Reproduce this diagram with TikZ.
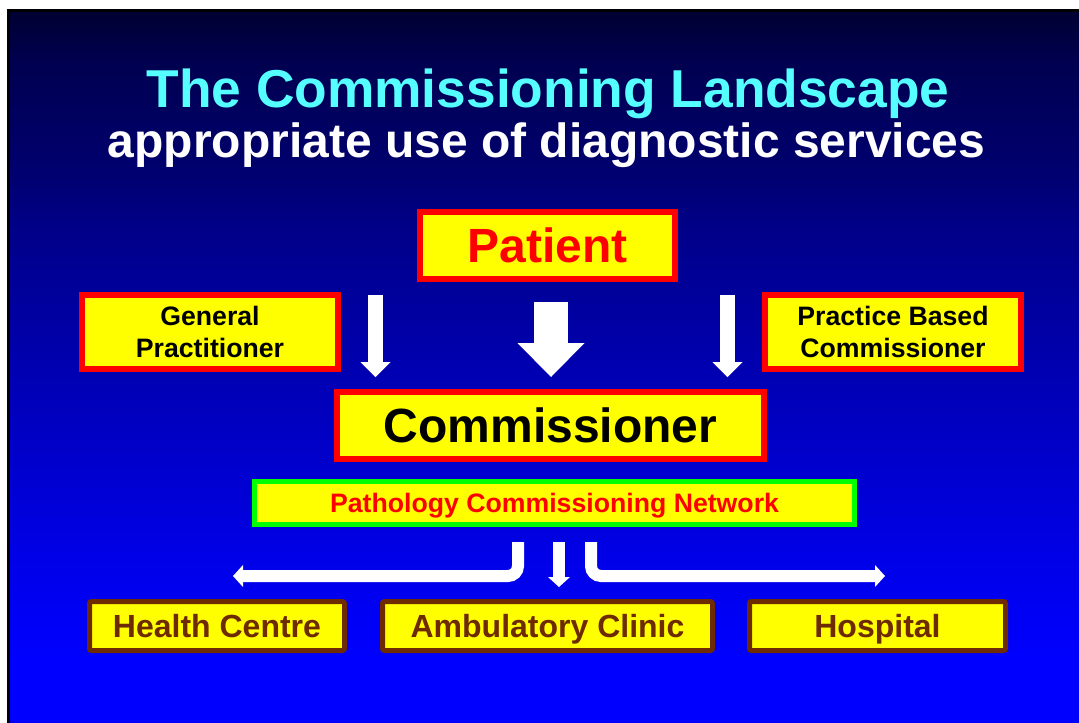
\documentclass[tikz,border=0pt]{standalone}
\usepackage{fontspec}
\setmainfont{Liberation Sans}
\usetikzlibrary{arrows.meta}
\definecolor{ttlcyan}{RGB}{85,255,255}
\definecolor{boxyellow}{RGB}{255,255,0}
\definecolor{boxred}{RGB}{255,0,0}
\definecolor{boxgreen}{RGB}{0,255,0}
\definecolor{boxbrown}{RGB}{110,42,0}
\pgfdeclareverticalshading{slidebg}{100bp}{rgb(0bp)=(0,0,1); rgb(29.35bp)=(0,0,1); rgb(36.36bp)=(0,0,0.91); rgb(43.37bp)=(0,0,0.80); rgb(51.79bp)=(0,0,0.66); rgb(59.85bp)=(0,0,0.53); rgb(63.36bp)=(0,0,0.44); rgb(71.42bp)=(0,0,0.31); rgb(75bp)=(0,0,0.19); rgb(100bp)=(0,0,0.19)}
\tikzset{
  redbox/.style={draw=boxred, fill=boxyellow, line width=4.5pt, inner sep=0pt},
  greenbox/.style={draw=boxgreen, fill=boxyellow, line width=3.75pt, inner sep=0pt},
  brownbox/.style={draw=boxbrown, fill=boxyellow, line width=3.75pt, inner sep=0pt, rounded corners=1.5pt, text=boxbrown, minimum height=36.75pt, text depth=0pt, font=\bfseries\fontsize{24}{29}\selectfont},
  sidetext/.style={font=\bfseries\fontsize{20}{24}\selectfont, align=center, text=black},
  thinarrow/.style={draw=white, line width=11.25pt, -{Triangle[length=11.25pt, width=22.5pt, line width=0pt]}},
  bigarrow/.style={draw=white, line width=25.5pt, -{Triangle[length=25.5pt, width=50.25pt, line width=0pt]}},
  flowarrow/.style={draw=white, line width=9pt, rounded corners=7.5pt, -{Triangle[length=7.5pt, width=16.5pt, line width=0pt]}},
}
\begin{document}
\begin{tikzpicture}[x=0.75pt,y=-0.75pt]
\useasboundingbox (0,0) rectangle (1079,722);
\clip (0,0) rectangle (1079,722);
\fill[white] (0,0) rectangle (1079,722);
\shade[shading=slidebg] (7,9) rectangle (1079,722);
\draw[black, line width=2.25pt] (8.5,730) -- (8.5,10.5) -- (1090,10.5);

% titles
\node[font=\bfseries\fontsize{40}{48}\selectfont, text=ttlcyan, anchor=base, inner sep=0pt] (title) at (548,107) {The Commissioning Landscape};
\node[font=\bfseries\fontsize{36}{43}\selectfont, text=white, anchor=base, inner sep=0pt] (subtitle) at (546.5,157) {appropriate use of diagnostic services};

% boxes
\node[redbox, minimum width=191.25pt, minimum height=50.25pt, text=boxred, text depth=0pt, font=\bfseries\fontsize{36}{43}\selectfont] (pat) at (547.5,245.5) {Patient};
\node[redbox, sidetext, minimum width=192pt, minimum height=55.5pt] (gp) at (210,332) {General\\Practitioner};
\node[redbox, sidetext, minimum width=192pt, minimum height=55.5pt] (pbc) at (893,332) {Practice Based\\Commissioner};
\node[redbox, minimum width=320.25pt, minimum height=50.25pt, text=black, text depth=0pt, font=\bfseries\fontsize{36}{43}\selectfont] (comm) at (550.5,425.5) {Commissioner};
\node[greenbox, minimum width=450pt, minimum height=32.25pt, text=boxred, text depth=0pt, font=\bfseries\fontsize{20}{24}\selectfont] (pcn) at (554.5,503) {Pathology Commissioning Network};
\node[brownbox, minimum width=191.25pt] (hc) at (217,626) {Health Centre};
\node[brownbox, minimum width=247.5pt] (ac) at (547.5,626) {Ambulatory Clinic};
\node[brownbox, minimum width=192pt] (hosp) at (877.5,626) {Hospital};

% arrows into the commissioner
\coordinate (a1s) at (375.5,295);
\coordinate (a1e) at (375.5,377);
\coordinate (a2s) at (551,302);
\coordinate (a2e) at (551,377);
\coordinate (a3s) at (727.5,295);
\coordinate (a3e) at (727.5,377);
\draw[thinarrow] (a1s) -- (a1e);
\draw[bigarrow] (a2s) -- (a2e);
\draw[thinarrow] (a3s) -- (a3e);

% arrows out of the network
\coordinate (b1s) at (518,542);
\coordinate (b1e) at (233,576);
\coordinate (b2s) at (559,542);
\coordinate (b2e) at (559,587);
\coordinate (b3s) at (591,542);
\coordinate (b3e) at (885,576);
\draw[flowarrow] (b1s) |- (b1e);
\draw[flowarrow] (b2s) -- (b2e);
\draw[flowarrow] (b3s) |- (b3e);
\end{tikzpicture}
\end{document}
